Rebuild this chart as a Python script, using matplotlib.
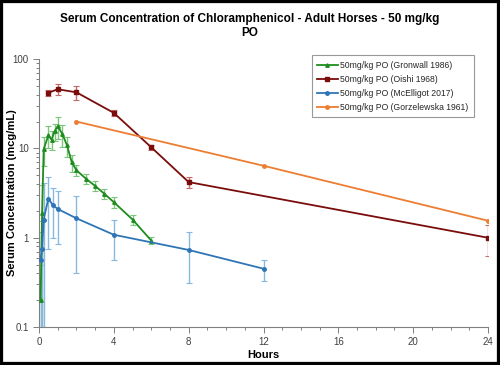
import matplotlib
matplotlib.use("Agg")
import matplotlib.pyplot as plt
from matplotlib.patches import Rectangle
from matplotlib.ticker import FixedLocator, NullFormatter, LogLocator

plt.rcParams["font.family"] = ["Liberation Sans", "DejaVu Sans"]

# ---- data (hours, mcg/mL, SD) ----
gron_t   = [0.083, 0.167, 0.25, 0.5, 0.67, 0.83, 1.0, 1.25, 1.5, 1.75, 2, 2.5, 3, 3.5, 4, 5, 6]
gron_c   = [0.2, 1.9, 9.8, 14, 12.5, 15.5, 17.7, 14.5, 10.8, 7.0, 5.7, 4.6, 3.8, 3.1, 2.5, 1.6, 0.93]
gron_sd  = [0.3, 2.0, 3.5, 4.0, 3.0, 3.5, 5.0, 4.0, 2.7, 1.5, 0.8, 0.6, 0.5, 0.4, 0.35, 0.2, 0.08]

oishi_t  = [0.5, 1, 2, 4, 6, 8, 24]
oishi_c  = [42, 46, 42.5, 25, 10.3, 4.2, 1.0]
oishi_sd = [3, 6, 8, 1.7, 0.7, 0.6, 0.38]

mce_t    = [0.083, 0.167, 0.25, 0.5, 0.75, 1, 2, 4, 8, 12]
mce_c    = [0.57, 0.75, 1.6, 2.75, 2.3, 2.1, 1.65, 1.08, 0.73, 0.45]
mce_sd   = [0.6, 0.8, 2.5, 2.0, 1.3, 1.25, 1.25, 0.52, 0.42, 0.12]

gorz_t   = [2, 12, 24]
gorz_c   = [20, 6.4, 1.55]

series = [
    ("50mg/kg PO (Gronwall 1986)",    gron_t,  gron_c,  gron_sd,  "#1E8C1E", "#7DC47D", "^"),
    ("50mg/kg PO (Oishi 1968)",       oishi_t, oishi_c, oishi_sd, "#7B0C0C", "#C46A6A", "s"),
    ("50mg/kg PO (McElligot 2017)",   mce_t,   mce_c,   mce_sd,   "#2E75B6", "#86B8E0", "o"),
    ("50mg/kg PO (Gorzelewska 1961)", gorz_t,  gorz_c,  None,     "#ED7D31", None,      "o"),
]

fig = plt.figure(figsize=(5, 3.65), dpi=100, facecolor="white")
ax = fig.add_axes([0.078, 0.104, 0.898, 0.734])

for lbl, t, c, sd, col, ecol, mk in series:
    if sd is not None:
        ax.errorbar(t, c, yerr=sd, fmt="none", ecolor=ecol, elinewidth=1.0,
                    capsize=2, capthick=0.8, zorder=2)
    ax.plot(t, c, color=col, lw=1.3, marker=mk, ms=2.5, label=lbl, zorder=3)

ax.set_yscale("log")
ax.set_ylim(0.1, 100)
ax.set_xlim(0, 24)
ax.set_yticks([0.1, 1, 10, 100])
ax.set_yticklabels(["0.1", "1", "10", "100"])
ax.yaxis.set_minor_locator(LogLocator(base=10, subs=range(2, 10)))
ax.yaxis.set_minor_formatter(NullFormatter())
ax.set_xticks([0, 4, 8, 12, 16, 20, 24])
ax.xaxis.set_minor_locator(FixedLocator(range(0, 25)))

for sp in ("top", "right"):
    ax.spines[sp].set_visible(False)
for sp in ("left", "bottom"):
    ax.spines[sp].set_color("#808080")
    ax.spines[sp].set_linewidth(0.8)
ax.tick_params(which="both", direction="out", color="#808080", labelsize=7,
               labelcolor="#404040", width=0.7)
ax.tick_params(which="major", length=4)
ax.tick_params(which="minor", length=2.5)

ax.set_xlabel("Hours", fontsize=8, fontweight="bold", labelpad=2)
ax.set_ylabel("Serum Concentration (mcg/mL)", fontsize=8, fontweight="bold")
ax.yaxis.set_label_coords(-0.05, 0.5)

leg = ax.legend(loc="upper right", bbox_to_anchor=(0.978, 1.03), fontsize=6.2,
                frameon=True, fancybox=False, edgecolor="#808080",
                handlelength=2.4, handletextpad=0.3, borderpad=0.6,
                labelspacing=0.6, markerscale=1.0)
leg.get_frame().set_linewidth(0.8)
for txt in leg.get_texts():
    txt.set_color("#262626")

fig.text(0.5, 0.928, "Serum Concentration of Chloramphenicol - Adult Horses - 50 mg/kg\nPO",
         ha="center", va="center", fontsize=8.5, fontweight="bold", linespacing=1.25)

fig.patches.append(Rectangle((0, 0), 1, 1, transform=fig.transFigure, fill=False,
                             edgecolor="black", linewidth=4.5, zorder=10))

fig.savefig("out.png", dpi=100, facecolor="white")
